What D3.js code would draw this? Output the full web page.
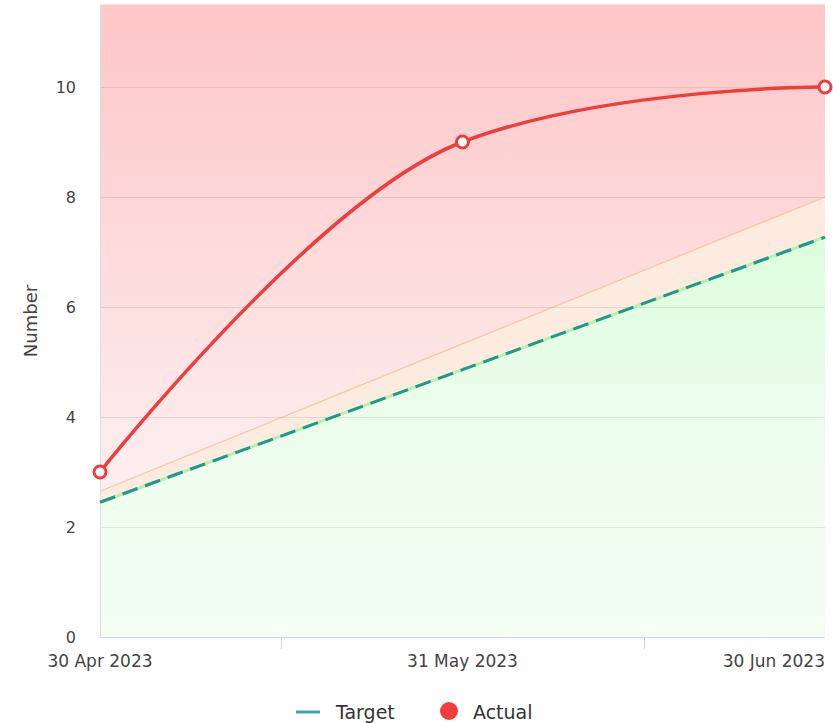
<!DOCTYPE html>
<html><head><meta charset="utf-8">
<script src="https://cdn.jsdelivr.net/npm/d3@7"></script>
<style>html,body{margin:0;padding:0;background:#fff;} svg{display:block;font-family:"DejaVu Sans",Verdana,sans-serif;}</style>
</head><body>
<svg id="chart" width="833" height="723"></svg>
<script>
const categories = ["30 Apr 2023", "31 May 2023", "30 Jun 2023"];
const actualValues = [3, 9, 10];
const targetValues = [2.45, 4.86, 7.27];
const upperThreshold = [2.65, 5.33, 8.0];
const yTicks = [0, 2, 4, 6, 8, 10];
const legendLabels = ["Target", "Actual"];

(function(){
const svg = d3.select("#chart");
const pL = 100, pR = 825, pT = 4.5, pB = 637;
const x = d3.scalePoint().domain(categories).range([pL, pR]);
const y = d3.scaleLinear().domain([0, 11.5]).range([pB, pT]);

const defs = svg.append("defs");
const rg = defs.append("linearGradient").attr("id","redg").attr("gradientUnits","userSpaceOnUse")
  .attr("x1",0).attr("x2",0).attr("y1",pT).attr("y2",pB);
rg.append("stop").attr("offset",0).attr("stop-color","#fec6c7");
rg.append("stop").attr("offset",0.75).attr("stop-color","#fdeeee");
rg.append("stop").attr("offset",1).attr("stop-color","#fff5f5");
const gg = defs.append("linearGradient").attr("id","greeng").attr("gradientUnits","userSpaceOnUse")
  .attr("x1",0).attr("x2",0).attr("y1",y(7.3)).attr("y2",pB);
gg.append("stop").attr("offset",0).attr("stop-color","#dcfcdc");
gg.append("stop").attr("offset",0.45).attr("stop-color","#ecfdec");
gg.append("stop").attr("offset",1).attr("stop-color","#f4fef3");

const data = categories.map((c,i)=>({c, a:actualValues[i], t:targetValues[i], u:upperThreshold[i]}));

svg.append("rect").attr("x",pL).attr("y",pT).attr("width",pR-pL).attr("height",pB-pT).attr("fill","url(#redg)");
svg.append("path").datum(data).attr("fill","#fdebdf")
  .attr("d", d3.area().x(d=>x(d.c)).y0(d=>y(d.t)).y1(d=>y(d.u)));
svg.append("path").datum(data).attr("fill","none").attr("stroke","#f6c6a2").attr("stroke-width",1.2)
  .attr("d", d3.line().x(d=>x(d.c)).y(d=>y(d.u)));
svg.append("path").datum(data).attr("fill","url(#greeng)")
  .attr("d", d3.area().x(d=>x(d.c)).y0(y(0)).y1(d=>y(d.t)));

svg.append("g").selectAll("line").data(yTicks.filter(v=>v>0)).join("line")
  .attr("x1",pL).attr("x2",pR).attr("y1",d=>y(d)+0.5).attr("y2",d=>y(d)+0.5)
  .attr("stroke","#000").attr("stroke-opacity",0.09);

svg.append("line").attr("x1",pL).attr("x2",pR).attr("y1",pB+0.5).attr("y2",pB+0.5).attr("stroke","#ccd6eb");
svg.append("line").attr("x1",pL+0.5).attr("x2",pL+0.5).attr("y1",pT).attr("y2",pB).attr("stroke","#d6dcec");
const mids = [];
for (let i=0;i<categories.length-1;i++) mids.push((x(categories[i])+x(categories[i+1]))/2);
svg.append("g").selectAll("line").data(mids).join("line")
  .attr("x1",d=>Math.round(d)+0.5).attr("x2",d=>Math.round(d)+0.5).attr("y1",pB).attr("y2",pB+12)
  .attr("stroke","#ccd6eb");

svg.append("g").selectAll("text").data(yTicks).join("text")
  .attr("x",76).attr("y",d=>y(d)).attr("dy","0.35em").attr("text-anchor","end")
  .attr("font-size",16).attr("fill","#444").text(d=>d);
svg.append("g").selectAll("text").data(categories).join("text")
  .attr("x",(d,i)=> i===categories.length-1 ? pR : x(d))
  .attr("y",667).attr("text-anchor",(d,i)=> i===categories.length-1 ? "end":"middle")
  .attr("font-size",17).attr("fill","#444").text(d=>d);
svg.append("text").attr("transform","translate(37,321) rotate(-90)").attr("text-anchor","middle")
  .attr("font-size",18).attr("fill","#444").text("Number");

svg.append("path").datum(data).attr("fill","none").attr("stroke","#b8f0b0").attr("stroke-width",3)
  .attr("d", d3.line().x(d=>x(d.c)).y(d=>y(d.t)));
svg.append("path").datum(data).attr("fill","none").attr("stroke","#1f9a8a").attr("stroke-width",3)
  .attr("stroke-dasharray","16,8")
  .attr("d", d3.line().x(d=>x(d.c)).y(d=>y(d.t)));

// Highcharts-style spline through scaled points
function spline(pts){
  const sm = 1.5, n = pts.length;
  const ctl = pts.map(()=>({}));
  for (let i=1;i<n-1;i++){
    const [px,py]=pts[i], [lx,ly]=pts[i-1], [nx,ny]=pts[i+1];
    let lcx=(sm*px+lx)/(sm+1), lcy=(sm*py+ly)/(sm+1);
    let rcx=(sm*px+nx)/(sm+1), rcy=(sm*py+ny)/(sm+1);
    const corr=((rcy-lcy)*(rcx-px))/(rcx-lcx)+py-rcy;
    lcy+=corr; rcy+=corr;
    if (lcy>ly && lcy>py){ lcy=Math.max(ly,py); rcy=2*py-lcy; }
    else if (lcy<ly && lcy<py){ lcy=Math.min(ly,py); rcy=2*py-lcy; }
    if (rcy>ny && rcy>py){ rcy=Math.max(ny,py); lcy=2*py-rcy; }
    else if (rcy<ny && rcy<py){ rcy=Math.min(ny,py); lcy=2*py-rcy; }
    ctl[i]={lcx,lcy,rcx,rcy};
  }
  const p = d3.path();
  p.moveTo(pts[0][0],pts[0][1]);
  for (let i=1;i<n;i++){
    const a=ctl[i-1], b=ctl[i];
    p.bezierCurveTo(a.rcx??pts[i-1][0], a.rcy??pts[i-1][1], b.lcx??pts[i][0], b.lcy??pts[i][1], pts[i][0], pts[i][1]);
  }
  return p.toString();
}
svg.append("path").attr("fill","none").attr("stroke","#f03c3c").attr("stroke-width",3.5)
  .attr("d", spline(data.map(d=>[x(d.c), y(d.a)])));
svg.append("g").selectAll("circle").data(data).join("circle")
  .attr("cx",d=>x(d.c)).attr("cy",d=>y(d.a)).attr("r",6)
  .attr("fill","#fff").attr("stroke","#f03c3c").attr("stroke-width",3);

const lg = svg.append("g");
lg.append("line").attr("x1",296).attr("x2",320).attr("y1",712).attr("y2",712).attr("stroke","#3aa8a8").attr("stroke-width",3);
lg.append("text").attr("x",336).attr("y",712).attr("dy","0.35em").attr("font-size",19).attr("fill","#333").text(legendLabels[0]);
lg.append("circle").attr("cx",449).attr("cy",711).attr("r",9).attr("fill","#f53c3c");
lg.append("text").attr("x",473).attr("y",712).attr("dy","0.35em").attr("font-size",19).attr("fill","#333").text(legendLabels[1]);
})();
</script>
</body></html>
